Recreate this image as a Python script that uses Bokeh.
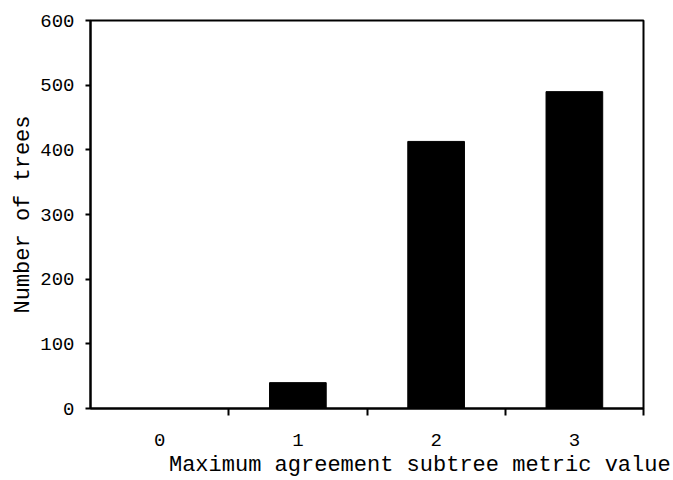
from bokeh.plotting import figure
from bokeh.models import FixedTicker, Range1d
from bokeh.embed import file_html
from bokeh.resources import INLINE

categories = ["0", "1", "2", "3"]
counts = [0, 40, 413, 490]
y_ticks = [0, 100, 200, 300, 400, 500, 600]
x_title = "Maximum agreement subtree metric value"
y_title = "Number of trees"

FONT = "Liberation Mono"

xs = list(range(len(categories)))

p = figure(width=672, height=480, output_backend="svg", toolbar_location=None,
           x_range=Range1d(-0.5, len(categories) - 0.5), y_range=Range1d(0, 600),
           min_border_left=90, min_border_right=29, min_border_top=20, min_border_bottom=71)

p.vbar(x=xs, top=counts, width=0.41, bottom=0, color="black", line_color="black")

p.grid.visible = False
p.outline_line_color = "black"
p.outline_line_width = 2
p.background_fill_color = "white"
p.border_fill_color = "white"

xa = p.xaxis[0]
xa.ticker = FixedTicker(ticks=xs, minor_ticks=[i + 0.5 for i in xs])
xa.major_label_overrides = {i: c for i, c in zip(xs, categories)}
xa.major_tick_line_color = None
xa.major_tick_out = 0
xa.major_tick_in = 0
xa.minor_tick_line_color = "black"
xa.minor_tick_line_width = 2
xa.minor_tick_out = 7
xa.minor_tick_in = 0
xa.axis_line_width = 2
xa.axis_line_color = "black"
xa.major_label_text_font = FONT
xa.major_label_text_font_size = "19px"
xa.major_label_text_color = "black"
xa.major_label_standoff = 18
# leading no-break spaces shift the centred title to the right, as in the original
xa.axis_label = "\u00a0" * 8 + x_title
xa.axis_label_text_font = FONT
xa.axis_label_text_font_size = "22px"
xa.axis_label_text_font_style = "normal"
xa.axis_label_text_color = "black"
xa.axis_label_standoff = 4

ya = p.yaxis[0]
ya.ticker = FixedTicker(ticks=y_ticks, minor_ticks=[])
ya.major_tick_line_width = 2
ya.major_tick_out = 5
ya.major_tick_in = 0
ya.axis_line_width = 2
ya.major_label_text_font = FONT
ya.major_label_text_font_size = "19px"
ya.major_label_text_color = "black"
ya.major_label_standoff = 11
ya.axis_label = y_title
ya.axis_label_text_font = FONT
ya.axis_label_text_font_size = "22px"
ya.axis_label_text_font_style = "normal"
ya.axis_label_text_color = "black"
ya.axis_label_standoff = 1

open("out.html", "w").write(file_html(p, INLINE))
